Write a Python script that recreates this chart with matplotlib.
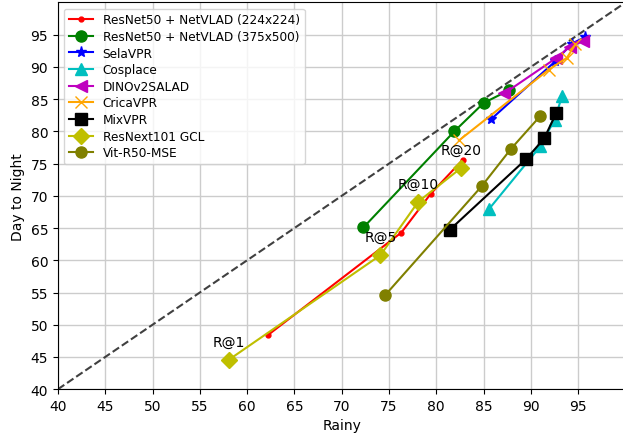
import matplotlib
matplotlib.use('Agg')
import matplotlib.pyplot as plt

# recall values (R@1, R@5, R@10, R@20): rainy vs day-to-night
netvlad224_x = [62.2, 76.3, 79.4, 82.8]
netvlad224_y = [48.4, 64.3, 70.3, 75.6]
netvlad375_x = [72.3, 81.9, 85.0, 87.7]
netvlad375_y = [65.1, 80.0, 84.4, 86.4]
selavpr_x = [85.8, 92.6, 94.3, 95.7]
selavpr_y = [81.9, 90.9, 93.6, 94.6]
cosplace_x = [85.6, 91.0, 92.5, 93.3]
cosplace_y = [68.0, 77.7, 81.8, 85.5]
salad_x = [87.2, 92.7, 94.1, 95.5]
salad_y = [85.9, 91.4, 93.1, 94.0]
crica_x = [82.4, 91.9, 93.8, 94.7]
crica_y = [78.6, 89.6, 91.4, 93.5]
mixvpr_x = [81.4, 89.5, 91.4, 92.7]
mixvpr_y = [64.7, 75.7, 78.9, 82.9]
gcl_x = [58.1, 74.1, 78.1, 82.6]
gcl_y = [44.6, 60.8, 69.1, 74.3]
vitmse_x = [74.6, 84.8, 87.9, 91.0]
vitmse_y = [54.6, 71.5, 77.3, 82.4]

recall_labels = ['R@1', 'R@5', 'R@10', 'R@20']

fig = plt.figure(figsize=(6.23, 4.35), dpi=100)
ax = fig.add_axes([0.093, 0.103, 0.911, 0.889])

ax.plot([40, 100], [40, 100], '--', color='#404040', lw=1.5, zorder=1)

ax.plot(netvlad224_x, netvlad224_y, 'r.-', ms=7, label='ResNet50 + NetVLAD (224x224)')
ax.plot(netvlad375_x, netvlad375_y, 'go-', ms=8, label='ResNet50 + NetVLAD (375x500)')
ax.plot(selavpr_x, selavpr_y, 'b*-', ms=8, label='SelaVPR')
ax.plot(cosplace_x, cosplace_y, 'c^-', ms=8, label='Cosplace')
ax.plot(salad_x, salad_y, 'm<-', ms=8, label='DINOv2SALAD')
ax.plot(crica_x, crica_y, 'x-', color='orange', ms=8, label='CricaVPR')
ax.plot(mixvpr_x, mixvpr_y, 'ks-', ms=8, label='MixVPR')
ax.plot(gcl_x, gcl_y, 'yD-', ms=8, label='ResNext101 GCL')
ax.plot(vitmse_x, vitmse_y, 'o-', color='olive', ms=8, label='Vit-R50-MSE')

for lab, x, y in zip(recall_labels, gcl_x, gcl_y):
    ax.text(x, y + 2.8, lab, ha='center', va='center', fontsize=10)

ax.set_xlim(40, 100)
ax.set_ylim(40, 100)
ax.set_xticks(range(40, 100, 5))
ax.set_yticks(range(40, 100, 5))
ax.grid(True, color='#cccccc', lw=1)
ax.set_axisbelow(True)
ax.set_xlabel('Rainy')
ax.set_ylabel('Day to Night')
ax.legend(loc='upper left', fontsize=8.7, labelspacing=0.3)

fig.savefig('out.png', dpi=100)
